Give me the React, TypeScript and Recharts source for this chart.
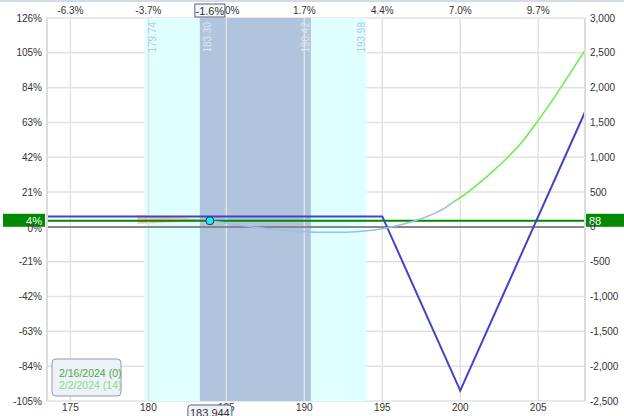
import {
  ComposedChart,
  Line,
  Area,
  XAxis,
  YAxis,
  CartesianGrid,
  ReferenceArea,
  ReferenceLine,
  ReferenceDot,
} from 'recharts'

// price axis
const xTicks = [175, 180, 185, 190, 195, 200, 205]
const pctTopLabels = ['-6.3%', '-3.7%', '-1.0%', '1.7%', '4.4%', '7.0%', '9.7%']
const pctTicks = [-105, -84, -63, -42, -21, 0, 21, 42, 63, 84, 105, 126]
const usdTicks = [-2500, -2000, -1500, -1000, -500, 0, 500, 1000, 1500, 2000, 2500, 3000]

// expiration P&L
const expPrices = [173.5, 195, 200, 208]
const expPnl = [150, 150, -2350, 1650]

// T+0 P&L (light blue part, then green part)
const t0Prices = [183.944, 185, 186, 187, 188, 189, 190, 191, 192, 193, 194, 195, 196, 197, 198, 199, 199.5]
const t0Pnl = [88, 55, 20, -10, -35, -55, -68, -76, -78, -72, -55, -25, 20, 80, 160, 270, 350]
const t0bPrices = [199.5, 200, 201, 202, 203, 204, 205, 206, 207, 208]
const t0bPnl = [350, 420, 590, 780, 990, 1230, 1530, 1850, 2190, 2540]

// orange wedge left of current price
const wedgePrices = [179.3, 181, 182.5, 183.944]
const wedgeLow = [45, 60, 75, 88]
const wedgeHigh = [172, 150, 125, 100]

// ranges
const outerBand = [179.74, 193.98]
const innerBand = [183.3, 190.42]

const currentPrice = 183.944
const currentPnl = 88
const currentPct = '-1.6%'
const currentPnlPct = 4

const legendItems = ['2/16/2024 (0)', '2/2/2024 (14)']
const legendColors = ['#4aa84a', '#7ee07e']

const expData = expPrices.map((x, i) => ({ x, v: expPnl[i] }))
const t0Data = t0Prices.map((x, i) => ({ x, v: t0Pnl[i] }))
const t0bData = t0bPrices.map((x, i) => ({ x, v: t0bPnl[i] }))
const wedgeData = wedgePrices.map((x, i) => ({ x, v: [wedgeLow[i], wedgeHigh[i]] }))
const pctData = [{ x: currentPrice, v: currentPnlPct }]
const axisTicks = [...xTicks, currentPrice]

const font = 'Liberation Sans, Arial, sans-serif'
const tickStyle = { fontSize: 10, fill: '#333', fontFamily: font }

// vertical label at a band edge; side +1 = inside to the right, -1 = inside to the left
const edgeLabel = (value: number, side: number, color: string) => (props: any) => {
  const { x, y } = props.viewBox
  const top = y + 4
  const cx = x + (side > 0 ? 8 : -5)
  return (
    <text x={cx} y={top} transform={`rotate(-90 ${cx} ${top})`} textAnchor="end" dominantBaseline="central" fontSize={10} fill={color} fontFamily={font}>
      {value.toFixed(2)}
    </text>
  )
}

const TopTick = (props: any) => {
  const { x, y, payload } = props
  if (payload.value === currentPrice) {
    return (
      <g fontFamily={font} fontSize={11}>
        <rect x={x - 15} y={4} width={30} height={13} fill="#f4f6fa" stroke="#556677" />
        <text x={x} y={10.5} textAnchor="middle" dominantBaseline="central" fill="#333">{currentPct}</text>
      </g>
    )
  }
  return (
    <text x={x} y={y - 1} textAnchor="middle" {...tickStyle}>
      {pctTopLabels[xTicks.indexOf(payload.value)]}
    </text>
  )
}

const BottomTick = (props: any) => {
  const { x, y, payload } = props
  if (payload.value === currentPrice) {
    return (
      <g fontFamily={font} fontSize={11}>
        <rect x={x - 22} y={y + 1} width={44} height={16} rx={3} fill="#eef2f8" stroke="#556677" />
        <text x={x} y={y + 9} textAnchor="middle" dominantBaseline="central" fill="#333">{currentPrice}</text>
      </g>
    )
  }
  return (
    <text x={x} y={y} dy="0.71em" textAnchor="middle" {...tickStyle}>
      {payload.value}
    </text>
  )
}

const PctTick = (props: any) => {
  const { x, y, payload } = props
  // the 0% label sits half under the green 4% box
  return (
    <text x={x} y={y + (payload.value === 0 ? 2 : 0)} textAnchor="end" dominantBaseline="central" {...tickStyle}>
      {payload.value}%
    </text>
  )
}

const pnlLabel = (props: any) => {
  const { x, y, width } = props.viewBox
  return (
    <g fontFamily={font} fontSize={11}>
      <rect x={3} y={y - 7} width={x - 5} height={13} fill="#008a00" />
      <text x={x - 5} y={y} textAnchor="end" dominantBaseline="central" fill="#fff">{currentPnlPct}%</text>
      <rect x={x + width} y={y - 7} width={40} height={13} fill="#008a00" />
      <text x={x + width + 4} y={y} dominantBaseline="central" fill="#fff">{currentPnl}</text>
    </g>
  )
}

const App = () => {
  return (
    <div style={{ position: 'absolute', left: 0, top: 0, width: 624, height: 416, background: '#fff' }}>
      <div style={{ position: 'absolute', left: 0, top: 0, width: 624, height: 2, background: '#d4dbe8' }} />
      <ComposedChart width={624} height={416} margin={{ top: 0, right: 0, bottom: 0, left: 0 }}>
        <XAxis
          xAxisId="bottom"
          type="number"
          dataKey="x"
          domain={[173.5, 208]}
          ticks={axisTicks}
          allowDataOverflow
          height={15}
          tickLine={false}
          axisLine={false}
          tickSize={0}
          tickMargin={3}
          tick={<BottomTick />}
          interval={0}
        />
        <XAxis
          xAxisId="top"
          orientation="top"
          type="number"
          dataKey="x"
          domain={[173.5, 208]}
          ticks={axisTicks}
          allowDataOverflow
          height={18}
          tickLine={false}
          axisLine={false}
          tickSize={0}
          tickMargin={3}
          tick={<TopTick />}
          interval={0}
        />
        <YAxis
          yAxisId="pct"
          type="number"
          domain={[-105, 126]}
          ticks={pctTicks}
          allowDataOverflow
          width={47}
          tickLine={false}
          tickSize={0}
          tickMargin={5}
          axisLine={{ stroke: '#dcdcdc', strokeWidth: 2 }}
          tick={<PctTick />}
          interval={0}
        />
        <YAxis
          yAxisId="usd"
          orientation="right"
          type="number"
          domain={[-2500, 3000]}
          ticks={usdTicks}
          allowDataOverflow
          width={39}
          tickLine={false}
          tickSize={0}
          tickMargin={5}
          axisLine={{ stroke: '#dcdcdc', strokeWidth: 2 }}
          tick={tickStyle}
          tickFormatter={(v: number) => v.toLocaleString('en-US')}
          interval={0}
        />
        <ReferenceArea
          xAxisId="bottom"
          yAxisId="usd"
          x1={outerBand[0]}
          x2={outerBand[1]}
          fill="#e0ffff"
          fillOpacity={1}
        />
        <ReferenceArea
          xAxisId="bottom"
          yAxisId="usd"
          x1={innerBand[0]}
          x2={innerBand[1]}
          fill="#b0c4de"
          fillOpacity={1}
        />
        <CartesianGrid xAxisId="bottom" yAxisId="usd" vertical={false} stroke="#e2e2e2" strokeWidth={1.5} />
        {xTicks.map((t) => (
          <ReferenceLine key={t} xAxisId="bottom" yAxisId="usd" x={t} stroke="#e2e2e2" strokeWidth={1.5} />
        ))}
        {/* band edge labels, drawn over the grid */}
        <ReferenceLine xAxisId="bottom" yAxisId="usd" x={outerBand[0]} stroke="none" label={edgeLabel(outerBand[0], 1, '#b8c8dc')} />
        <ReferenceLine xAxisId="bottom" yAxisId="usd" x={outerBand[1]} stroke="none" label={edgeLabel(outerBand[1], -1, '#b8c8dc')} />
        <ReferenceLine xAxisId="bottom" yAxisId="usd" x={innerBand[0]} stroke="none" label={edgeLabel(innerBand[0], 1, '#dde6f2')} />
        <ReferenceLine xAxisId="bottom" yAxisId="usd" x={innerBand[1]} stroke="none" label={edgeLabel(innerBand[1], -1, '#dde6f2')} />
        <ReferenceLine xAxisId="bottom" yAxisId="usd" y={0} stroke="#888" strokeWidth={2} />
        <Area
          xAxisId="bottom"
          yAxisId="usd"
          data={wedgeData}
          dataKey="v"
          type="linear"
          stroke="none"
          fill="#f7b898"
          fillOpacity={0.85}
          isAnimationActive={false}
        />
        <ReferenceLine
          xAxisId="bottom"
          yAxisId="usd"
          y={currentPnl}
          stroke="#008a00"
          strokeWidth={2}
          label={pnlLabel}
        />
        <Line
          xAxisId="bottom"
          yAxisId="pct"
          data={pctData}
          dataKey="v"
          stroke="none"
          dot={false}
          isAnimationActive={false}
        />
        <Line
          xAxisId="bottom"
          yAxisId="usd"
          data={expData}
          dataKey="v"
          type="linear"
          stroke="#4343c6"
          strokeWidth={2}
          dot={false}
          isAnimationActive={false}
        />
        <Line
          xAxisId="bottom"
          yAxisId="usd"
          data={t0Data}
          dataKey="v"
          type="monotone"
          stroke="#9cbcf0"
          strokeWidth={1.5}
          dot={false}
          isAnimationActive={false}
        />
        <Line
          xAxisId="bottom"
          yAxisId="usd"
          data={t0bData}
          dataKey="v"
          type="monotone"
          stroke="#66ee44"
          strokeWidth={1.5}
          dot={false}
          isAnimationActive={false}
        />
        <ReferenceDot
          xAxisId="bottom"
          yAxisId="usd"
          x={currentPrice}
          y={currentPnl}
          r={4}
          fill="#22e6f4"
          stroke="#1c3a6a"
          strokeWidth={1}
        />
      </ComposedChart>
      <svg style={{ position: 'absolute', left: 0, top: 0 }} width={624} height={416} pointerEvents="none">
        <rect x={52} y={359} width={69} height={37} rx={4} fill="#eef2f8" stroke="#8f9cab" />
        {legendItems.map((t, i) => (
          <text key={t} x={59} y={373 + i * 12} fontSize={10.5} fill={legendColors[i]} fontFamily={font} dominantBaseline="central">
            {t}
          </text>
        ))}
      </svg>
    </div>
  )
}

export default App
